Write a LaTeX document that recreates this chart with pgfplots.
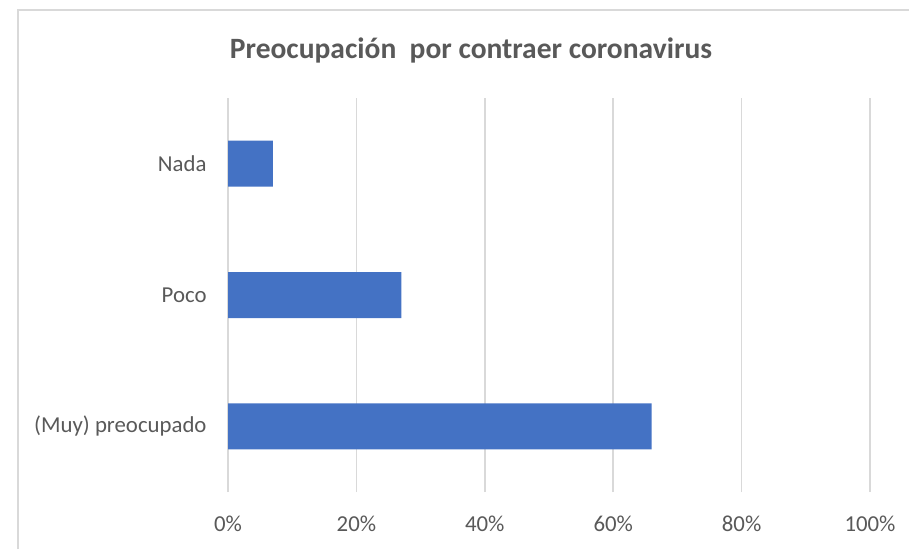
\documentclass[border=0pt]{standalone}
\usepackage{pgfplots}
\pgfplotsset{compat=1.18}
\usepackage{fontspec}
\setmainfont{Carlito}
\definecolor{barblue}{HTML}{4472C4}
\definecolor{txtgray}{HTML}{595959}
\definecolor{gridgray}{HTML}{D9D9D9}
\begin{document}
\begin{tikzpicture}[x=1pt,y=1pt]
\path[use as bounding box] (0,0) rectangle (909,549);
\draw[gridgray, line width=1.5pt] (18,0) -- (18,539) -- (909,539);
\node[text=txtgray, font=\fontsize{29.5}{34}\selectfont\bfseries] at (471,499) {Preocupación\ \ por contraer coronavirus};
\begin{axis}[
  at={(228pt,57pt)}, anchor=south west,
  scale only axis, width=642pt, height=394pt,
  xmin=0, xmax=100, ymin=-0.5, ymax=2.5,
  xbar, bar width=46pt,
  axis line style={draw=none},
  xtick={0,20,40,60,80,100},
  xticklabels={0\%,20\%,40\%,60\%,80\%,100\%},
  ytick={0,1,2},
  yticklabels={(Muy) preocupado,Poco,Nada},
  tick style={draw=none},
  xmajorgrids, grid style={gridgray, line width=1.6pt},
  xticklabel style={anchor=center, inner sep=0pt, yshift=-32pt, text=txtgray, font=\fontsize{22.8}{26}\selectfont},
  yticklabel style={anchor=east, inner sep=0pt, xshift=-17pt, text=txtgray, font=\fontsize{22.8}{26}\selectfont},
  /pgf/number format/assume math mode=true,
]
\addplot[fill=barblue, draw=none] coordinates {(66,0) (27,1) (7,2)};
\end{axis}
\end{tikzpicture}
\end{document}
